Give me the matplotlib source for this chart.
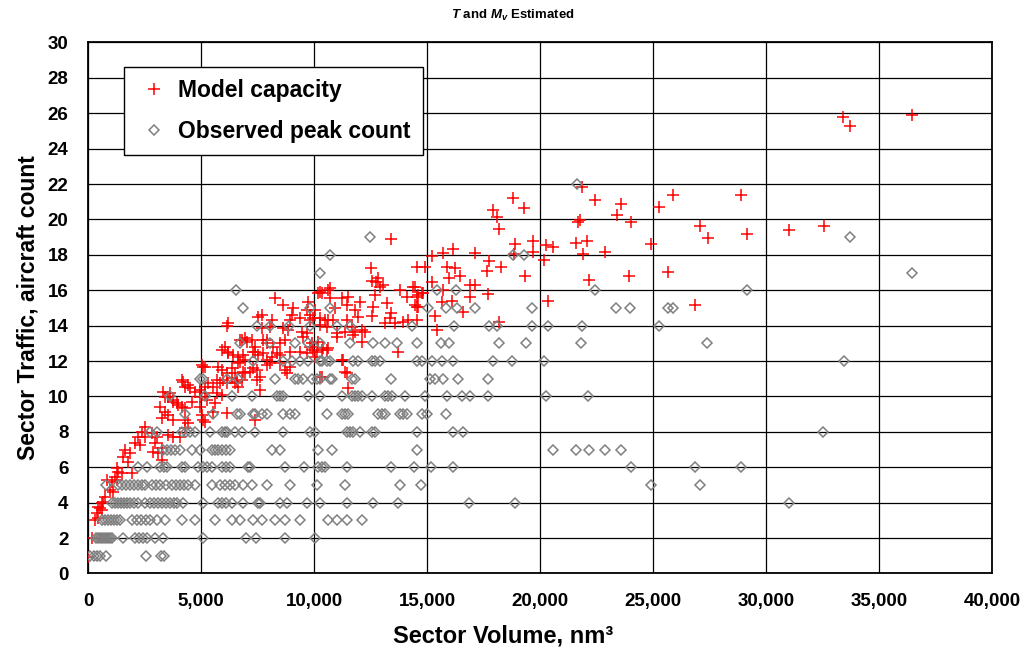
import matplotlib
matplotlib.use('Agg')
import matplotlib.pyplot as plt
from matplotlib.ticker import FuncFormatter, MultipleLocator

plt.rcParams['font.family'] = ['Liberation Sans', 'DejaVu Sans']
plt.rcParams['mathtext.fontset'] = 'custom'
plt.rcParams['mathtext.it'] = 'Liberation Sans:italic:bold'
plt.rcParams['mathtext.rm'] = 'Liberation Sans:bold'

# --- Model capacity (sector volume nm^3, traffic count) ---
model_volume = [
    18790, 17935, 18085, 19290, 18200, 21870, 22435, 21695, 21770, 18910,
    19680, 19680, 18850, 20180, 20270, 20590, 21580, 22095, 21890, 22880,
    22155, 19340, 20370, 18200, 17745, 17670, 18260, 17125, 16165, 15720,
    15210, 14910, 14545, 15870, 16240, 15990, 16460, 15210, 14470, 14835,
    14545, 16900, 17125, 16900, 17690, 15720, 15650, 16095, 14545, 16605,
    15355, 14545, 15430, 23585, 23395, 24030, 23950, 24925, 25255, 25885,
    25680, 27080, 27420, 26860, 28895, 29150, 31005, 32555, 33420, 33720,
    36475,
    # 10,000 - 15,000
    13410, 12520, 12580, 12730, 12850, 13070, 12920, 13810, 14400, 14100,
    14620, 14770, 12700, 13220, 14470, 14620, 10710, 10340, 10710, 11230,
    11520, 11450, 12040, 12630, 10930, 11820, 11960, 12550, 13410, 13360,
    10045, 10270, 10630, 10560, 11000, 11370, 11670, 11820, 11740, 12110,
    12260, 12110, 13140, 13590, 13950, 14170, 11450, 10190, 10340, 10560,
    11300, 10340, 11450, 11520, 13730, 10045,
    # 6,500 - 11,000
    10270, 10630, 8275, 8640, 9085, 7540, 7690, 8130, 9680, 9820,
    9380, 8940, 7690, 8640, 9460, 9680, 10270, 10490, 10850, 11000,
    6730, 7020, 7240, 7910, 8200, 8500, 8720, 9530, 9900, 9380,
    9680, 8940, 7390, 7760, 8130, 8350, 8500, 6730, 6950, 7315,
    7465, 7910, 10120, 10410, 10630, 11230, 10270, 11370, 6800, 6950,
    7610, 7390,
    # 5,000 - 10,000
    6140, 8050, 9010, 8860, 6950, 7390, 7760, 7910, 6060, 6210,
    6430, 6650, 6870, 7315, 7540, 5180, 5770, 5920, 6360, 6500,
    6870, 7170, 7610, 7910, 8050, 5320, 5545, 5990, 6140, 6580,
    6650, 7465, 5700, 5920, 4960, 5180, 5620, 5250, 8790, 8940,
    8500, 8720, 9820, 9970, 9820, 9970, 9750, 10190,
    # 0 - 7,000
    6210, 6800, 5100, 5920, 6210, 6140, 6650, 5700, 5840, 6360,
    6500, 5180, 4220, 4440, 3330, 3630, 3775, 3925, 4150, 4290,
    3190, 3410, 3550, 4960, 5030, 5545, 6140, 5100, 5180, 4290,
    4440, 3775, 3260, 2520, 2380, 2230, 2520, 2080, 2300, 2820,
    3040, 4290, 4070, 3550, 3775, 2965, 3260, 3110, 1640, 1860,
    1560, 1780, 1270, 1340, 1490, 1195, 1050, 1270, 1930, 974,
    1120, 752, 677, 531, 606, 385, 606, 456, 456, 310,
    164, 13, 827, 3410, 2890, 3290, 5030, 4150, 4290, 4510,
    3550, 3775, 3995, 4735, 4960, 4590,
]
model_traffic = [
    21.20, 20.54, 20.16, 20.63, 19.45, 21.85, 21.10, 19.88, 19.97, 18.60,
    18.80, 18.18, 18.05, 17.71, 18.54, 18.46, 18.69, 18.79, 18.05, 18.18,
    16.58, 16.81, 15.41, 14.23, 17.67, 17.10, 17.33, 18.09, 18.32, 18.09,
    17.94, 17.33, 17.33, 17.33, 17.24, 16.68, 16.81, 16.49, 16.20, 15.83,
    15.64, 16.30, 16.30, 15.64, 15.79, 16.02, 15.36, 15.41, 15.07, 14.79,
    14.57, 14.32, 13.76, 20.88, 20.25, 19.84, 16.81, 18.60, 20.72, 21.37,
    17.05, 19.65, 18.94, 15.17, 21.37, 19.16, 19.42, 19.65, 25.81, 25.30,
    25.89,
    18.88, 17.24, 16.54, 16.49, 16.68, 16.30, 16.20, 16.02, 16.20, 15.64,
    15.73, 15.83, 15.73, 15.27, 15.17, 15.07, 16.11, 15.83, 15.55, 15.55,
    15.64, 15.17, 15.36, 15.07, 14.98, 14.89, 14.51, 14.56, 14.70, 14.42,
    14.89, 14.42, 14.32, 13.94, 13.38, 13.66, 13.94, 13.66, 13.47, 13.76,
    13.66, 13.10, 14.14, 14.17, 14.23, 14.32, 14.32, 13.10, 12.63, 12.63,
    12.06, 11.12, 11.31, 10.46, 12.53, 12.25,
    15.92, 16.02, 15.55, 15.17, 14.98, 14.51, 14.60, 14.32, 14.89, 14.60,
    14.42, 14.32, 13.85, 13.85, 13.66, 13.57, 14.04, 14.32, 14.32, 13.57,
    13.19, 13.10, 13.19, 13.19, 12.81, 13.01, 13.19, 13.38, 13.01, 12.53,
    12.44, 12.53, 12.53, 12.44, 12.25, 12.44, 12.34, 11.97, 12.06, 11.59,
    11.50, 12.06, 12.53, 12.72, 12.72, 12.06, 11.12, 11.40, 10.93, 11.31,
    10.37, 8.67,
    13.98, 13.94, 14.60, 13.76, 13.29, 12.81, 13.19, 13.01, 12.81, 12.53,
    12.34, 12.25, 12.34, 12.53, 12.34, 11.68, 11.68, 11.50, 11.59, 11.31,
    11.40, 11.40, 11.12, 11.78, 11.88, 10.75, 10.55, 10.93, 10.75, 10.84,
    10.55, 10.93, 10.18, 10.08, 10.37, 10.18, 9.62, 9.80, 11.31, 11.68,
    11.88, 11.50, 12.81, 12.63, 14.32, 14.42, 15.36, 15.83,
    14.14, 13.19, 11.65, 12.63, 12.44, 11.31, 11.88, 10.93, 10.75, 11.03,
    10.75, 10.55, 10.84, 10.65, 10.27, 10.18, 9.80, 9.62, 9.42, 9.33,
    9.42, 9.14, 8.95, 9.42, 8.95, 9.14, 9.05, 8.67, 8.58, 8.67,
    8.49, 8.67, 8.77, 8.29, 8.01, 7.73, 7.73, 7.36, 7.26, 7.92,
    7.73, 8.20, 7.73, 7.82, 7.73, 7.36, 7.07, 6.79, 6.98, 6.79,
    6.60, 6.32, 5.94, 5.75, 5.66, 5.47, 5.19, 5.28, 5.66, 4.72,
    4.62, 4.34, 4.06, 3.68, 3.59, 3.40, 3.97, 3.77, 3.12, 3.02,
    1.99, 0.95, 5.28, 9.99, 6.88, 6.41, 11.78, 10.93, 10.55, 10.46,
    9.99, 9.71, 9.52, 10.27, 9.99, 9.71,
]

# --- Observed peak counts: sector volumes at each integer count ---
obs_at_1 = [80, 250, 400, 550, 800, 2570, 3250, 3380]
obs_at_2 = [350, 440, 530, 620, 710, 800, 890, 970, 1060, 1550, 2080, 2260,
            2430, 2610, 2960, 3320, 5090, 6990, 7430, 8720, 10040]
obs_at_3 = [620, 750, 890, 1020, 1150, 1280, 1420, 1950, 2170, 2350, 2570,
            2740, 3050, 3410, 4160, 4730, 5620, 6370, 6730, 7300, 7700, 8270,
            8720, 9380, 10620, 11020, 11460, 12120]
obs_at_4 = [1060, 1190, 1330, 1460, 1590, 1730, 1860, 2040, 2210, 2520, 2740,
            2920, 3100, 3270, 3450, 3630, 3810, 3940, 4200, 5090, 5750, 5930,
            6110, 6370, 6860, 7520, 7610, 8500, 8810, 9690, 10270, 11460,
            12610, 13720, 16860, 18890, 31020]
obs_at_5 = [800, 1330, 1500, 1680, 1860, 2040, 2210, 2390, 2520, 2830, 3010,
            3190, 3450, 3720, 3890, 4070, 4250, 4430, 4730, 5490, 5840, 6060,
            6280, 6500, 6860, 7260, 7920, 8940, 10130, 11370, 13810, 14740,
            24910, 27080]
obs_at_6 = [2210, 2610, 3190, 3360, 3500, 4160, 4290, 4870, 5090, 5270, 5490,
            5930, 6110, 6280, 7080, 7170, 8720, 9560, 10180, 10350, 10490,
            11460, 13410, 14430, 15180, 16150, 24030, 26860, 28900]
obs_at_7 = [3320, 3500, 3670, 3850, 4070, 4600, 4960, 5490, 5620, 5750, 5930,
            6110, 6280, 8140, 8500, 10180, 10800, 14560, 20580, 21590, 22170,
            22880, 23590]
obs_at_8 = [2740, 3050, 4160, 4340, 4510, 4730, 5400, 5930, 6060, 6150, 6500,
            6810, 7390, 8630, 9820, 10040, 11460, 11590, 11730, 12040, 12570,
            12700, 14560, 16150, 16590, 32520]
obs_at_9 = [4290, 5530, 6590, 6730, 7300, 7390, 7700, 7920, 8630, 8940, 9160,
            10580, 11240, 11370, 11500, 12830, 13010, 13140, 13810, 13940,
            14120, 14780, 15000, 15840]
obs_at_10 = [3630, 5180, 6370, 7260, 8360, 8500, 8630, 9740, 10270, 11240,
             11680, 11810, 11950, 12120, 12570, 13140, 13280, 13450, 14030,
             14910, 15890, 16550, 16900, 17700, 20270, 22130]
obs_at_11 = [4960, 5090, 6150, 6640, 8270, 9160, 9290, 9510, 9910, 10130,
             10270, 10710, 10800, 11680, 11810, 13410, 15130, 15350, 15710,
             16370, 17700]
obs_at_12 = [7300, 8630, 9030, 9380, 9740, 10270, 10350, 10580, 10710, 11730,
             11950, 12570, 12700, 12920, 14560, 14780, 15220, 15670, 16150,
             17920, 18760, 20180, 33450]
obs_at_13 = [6730, 8050, 9160, 9740, 10270, 11590, 12610, 13140, 13670, 14560,
             15620, 15970, 18190, 19380, 21820, 27390]
obs_at_14 = [7480, 8050, 8890, 9820, 11020, 11590, 14340, 16200, 17740, 18100,
             19650, 20360, 21860, 25270]
obs_at_15 = [6860, 9820, 10710, 15050, 15840, 16330, 17120, 19650, 23360,
             23980, 25670, 25890]
obs_at_16 = [6550, 15440, 16280, 22430, 29160]
obs_at_17 = [10270, 36460]
obs_at_18 = [10710, 18810, 19290]
obs_at_19 = [12480, 33720]
obs_at_22 = [21640]

obs_rows = [(1, obs_at_1), (2, obs_at_2), (3, obs_at_3), (4, obs_at_4),
            (5, obs_at_5), (6, obs_at_6), (7, obs_at_7), (8, obs_at_8),
            (9, obs_at_9), (10, obs_at_10), (11, obs_at_11), (12, obs_at_12),
            (13, obs_at_13), (14, obs_at_14), (15, obs_at_15), (16, obs_at_16),
            (17, obs_at_17), (18, obs_at_18), (19, obs_at_19), (22, obs_at_22)]
obs_volume = [v for c, vols in obs_rows for v in vols]
obs_count = [c for c, vols in obs_rows for v in vols]

# --- Figure ---
fig = plt.figure(figsize=(10.26, 6.52), dpi=100)
ax = fig.add_axes([0.0858, 0.1204, 0.881, 0.8146])

ax.plot(model_volume, model_traffic, linestyle='none', marker='+', markersize=8,
        markeredgewidth=1.1, color='#ff0000', label='Model capacity', zorder=3)
ax.plot(obs_volume, obs_count, linestyle='none', marker='D', markersize=4.6,
        markeredgewidth=1.1, markerfacecolor='none', markeredgecolor='#808080',
        label='Observed peak count', zorder=4)

ax.set_xlim(0, 40000)
ax.set_ylim(0, 30)
ax.xaxis.set_major_locator(MultipleLocator(5000))
ax.yaxis.set_major_locator(MultipleLocator(2))
ax.xaxis.set_major_formatter(FuncFormatter(lambda v, p: f'{int(v):,}'))
ax.grid(True, color='black', linewidth=0.9, zorder=0)
ax.set_axisbelow(True)
for s in ax.spines.values():
    s.set_linewidth(1.3)
ax.tick_params(axis='both', length=0, labelsize=13.5)
ax.tick_params(axis='x', pad=14)
ax.tick_params(axis='y', pad=14)
for lbl in ax.get_xticklabels() + ax.get_yticklabels():
    lbl.set_fontweight('bold')

ax.set_ylabel('Sector Traffic, aircraft count', fontsize=16.5, fontweight='bold', labelpad=6)
# x title sits centred on the chart area, slightly left of the plot centre
fig.text(0.49, 0.025, 'Sector Volume, nm³', ha='center', va='center',
         fontsize=17, fontweight='bold')
fig.text(0.5, 0.977, r'$\it{T}$ and $\it{M}_{\it{v}}$ Estimated', ha='center', va='center',
         fontsize=9.5, fontweight='bold')

leg = ax.legend(loc='upper left', bbox_to_anchor=(0.04, 0.954), borderaxespad=0,
                fancybox=False, framealpha=1, edgecolor='black', borderpad=0.55,
                labelspacing=0.75, handlelength=1.5, handletextpad=0.3,
                markerscale=1.1, prop={'weight': 'bold', 'size': 16.5})
leg.get_frame().set_linewidth(1.0)

fig.savefig('out.png', dpi=100, facecolor='white')
